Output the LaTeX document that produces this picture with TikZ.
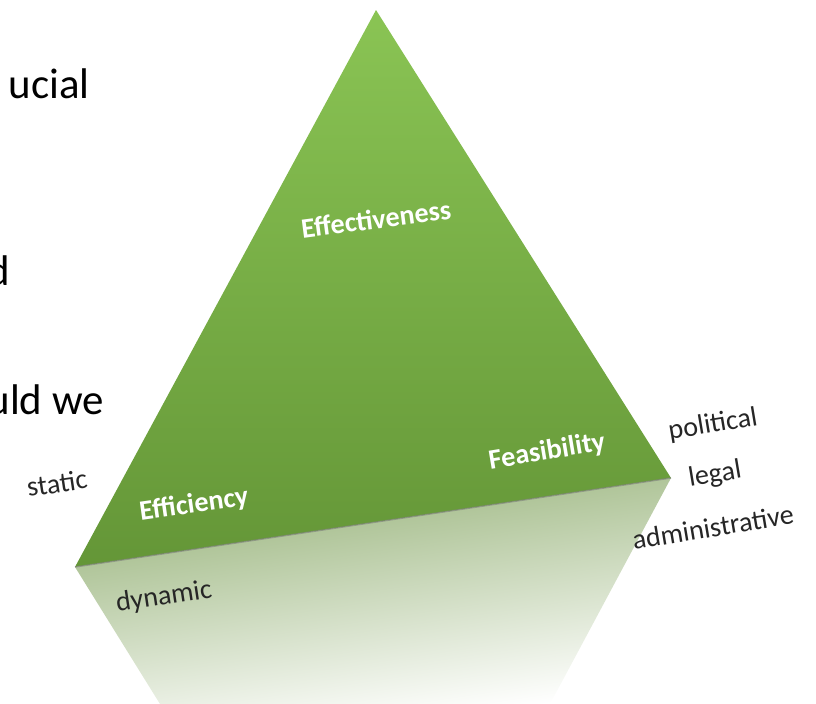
\documentclass[tikz,border=0pt]{standalone}
\usepackage{fontspec}
\setmainfont{Carlito}
\usetikzlibrary{calc,positioning}
\definecolor{greentop}{RGB}{138,196,84}
\definecolor{greenbot}{RGB}{100,150,55}
\definecolor{refl}{RGB}{150,178,120}

\begin{document}
\begin{tikzpicture}[x=0.025cm,y=-0.025cm,
    word/.style={font=\fontsize{20}{24}\selectfont,text=black!85,rotate=9.5,inner sep=1pt},
    corner/.style={font=\bfseries\fontsize{20}{24}\selectfont,text=white,rotate=8,inner sep=1pt},
    slide/.style={font=\fontsize{30.5}{36}\selectfont,anchor=base east,inner sep=0pt}]
    \useasboundingbox (0,0) rectangle (816,704);
    \clip (0,0) rectangle (816,704);

    \coordinate (T) at (376,10);
    \coordinate (L) at (75,567);
    \coordinate (R) at (671,478);
    \coordinate (l) at (160,704);
    \coordinate (r) at (550,704);

    % text of the slide, cut off at the left
    \node[slide] (line1) at (90,98) {ucial};
    \node[slide] (line2) at (10,285) {d};
    \node[slide] (line3) at (104,414) {uld we};

    % reflection under the base
    \shade[top color=refl, bottom color=white, shading angle=8.5] (L) -- (R) -- (r) -- (l) -- cycle;

    % the triangle
    \shade[top color=greentop, bottom color=greenbot] (T) -- (R) -- (L) -- cycle;
    \draw[black!50, line width=1pt, opacity=.6] (L) -- (R);

    % corners
    \node[corner,rotate=-0.5] (effect) at (376,219) {Effectiveness};
    \node[corner] (effic) at (194,505) {Efficiency};
    \node[corner,rotate=1.5] (feas) at (547,452) {Feasibility};

    % sides
    \node[word,rotate=-1] (static) at (57,483) {static};
    \node[word,rotate=-1] (dynamic) at (164,597) {dynamic};
    \node[word] (polit) at (713,425) {political};
    \node[word] (legal) at (715,475) {legal};
    \node[word] (admin) at (713,527) {administrative};
\end{tikzpicture}
\end{document}
